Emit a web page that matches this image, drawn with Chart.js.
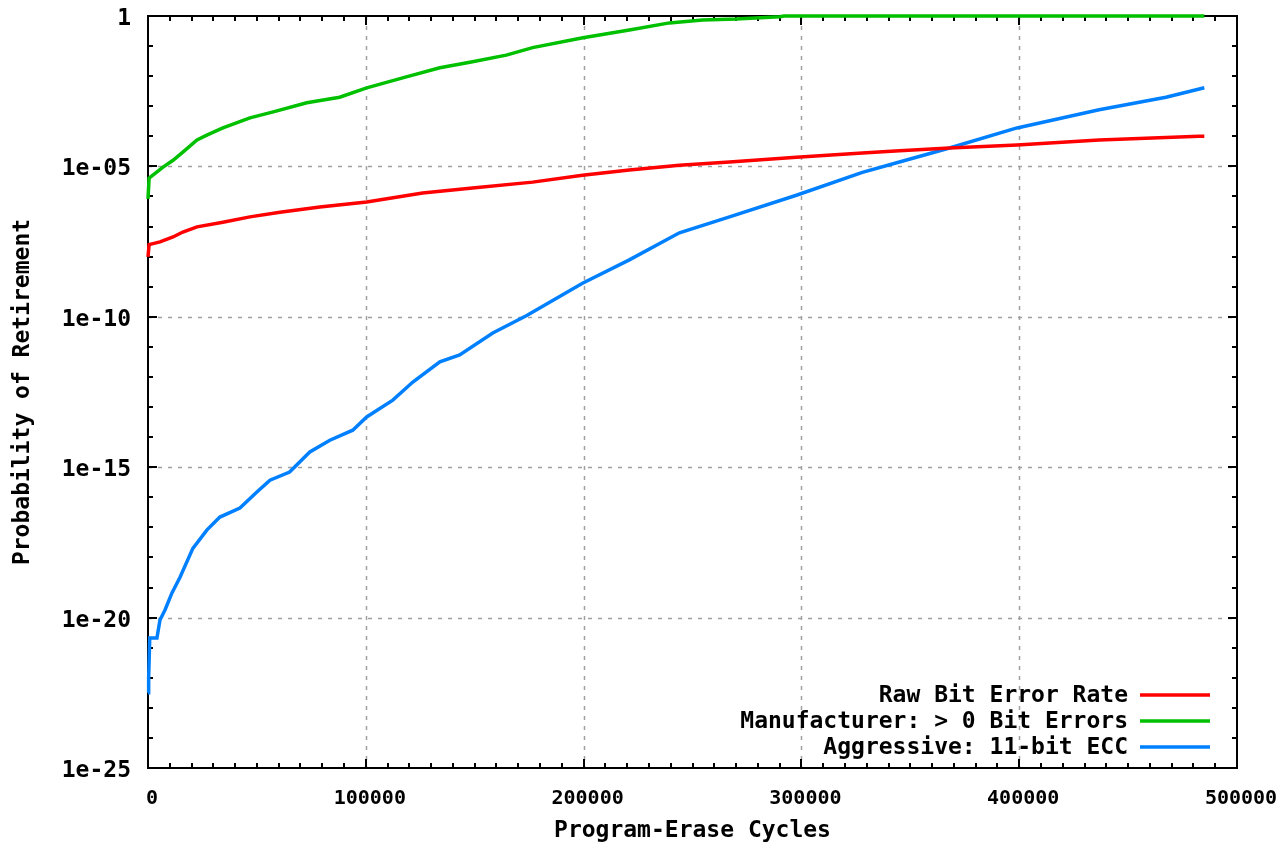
<!DOCTYPE html>
<html>
<head>
<meta charset="utf-8">
<script src="https://cdn.jsdelivr.net/npm/chart.js@4/dist/chart.umd.min.js"></script>
<style>
  html, body { margin: 0; padding: 0; background: #fff; }
  canvas { display: block; }
</style>
</head>
<body>
<canvas id="grafica" width="1282" height="846"></canvas>
<script>
// datos (ciclos P/E -> probabilidad)
const redCycles = [0, 500, 5500, 11500, 16000, 22500, 34400, 46800, 60600, 78900, 100400, 126100, 149000, 176600, 199500, 221000, 244000, 267000, 297700, 328000, 345000, 368000, 399000, 436700, 482600, 485000];
const redProb = [9.8e-9, 2.5e-8, 3.1e-8, 4.5e-8, 6.6e-8, 9.8e-8, 1.4e-7, 2.1e-7, 3.0e-7, 4.5e-7, 6.6e-7, 1.3e-6, 1.9e-6, 3.0e-6, 5.1e-6, 7.6e-6, 1.1e-5, 1.4e-5, 2.0e-5, 2.8e-5, 3.3e-5, 4.1e-5, 5.1e-5, 7.6e-5, 1.0e-4, 1.0e-4];

const greenCycles = [0, 500, 6900, 11500, 16000, 22500, 27000, 34400, 46800, 57500, 72900, 88000, 100400, 118600, 134000, 149000, 164500, 176600, 199700, 221000, 239400, 254600, 270000, 290000, 292000, 485000];
const greenProb = [8.3e-7, 4.1e-6, 9.5e-6, 1.6e-5, 3.0e-5, 7.6e-5, 1.1e-4, 1.9e-4, 4.1e-4, 6.5e-4, 1.3e-3, 2.0e-3, 4.1e-3, 9.5e-3, 0.019, 0.030, 0.050, 0.089, 0.19, 0.34, 0.59, 0.74, 0.79, 0.95, 1, 1];

const blueCycles = [0, 300, 800, 4100, 5500, 7800, 11000, 14700, 20600, 27000, 33000, 42200, 50000, 56000, 65000, 74300, 83500, 94000, 100400, 112400, 121600, 134000, 143100, 158300, 173900, 199500, 221000, 244000, 267000, 297700, 328000, 345000, 368000, 399000, 436700, 467400, 485000];
const blueProb = [3.2e-23, 1.0e-22, 2.1e-21, 2.1e-21, 8.3e-21, 1.8e-20, 6.6e-20, 2.2e-19, 2.0e-18, 8.1e-18, 2.2e-17, 4.4e-17, 1.5e-16, 3.7e-16, 6.9e-16, 3.2e-15, 7.9e-15, 1.7e-14, 4.7e-14, 1.7e-13, 6.8e-13, 3.2e-12, 5.4e-12, 2.9e-11, 1.1e-10, 1.3e-9, 7.8e-9, 6.2e-8, 2.1e-7, 1.1e-6, 6.3e-6, 1.4e-5, 4.1e-5, 1.9e-4, 7.6e-4, 2.0e-3, 4.1e-3];

const seriesLabels = ['Raw Bit Error Rate', 'Manufacturer: > 0 Bit Errors', 'Aggressive: 11-bit ECC'];
const seriesColors = ['#ff0000', '#00c000', '#0080ff'];

const xTickValues = [0, 100000, 200000, 300000, 400000, 500000];
const yDecades = [0, 5, 10, 15, 20, 25]; // exponentes negativos rotulados

const FONT = 'DejaVu Sans Mono';

function puntos(xs, ys) {
    return xs.map((x, i) => ({ x: x, y: ys[i] }));
}

// marco estilo gnuplot: rejilla punteada, borde y marcas hacia dentro en los 4 lados
const marcoGnuplot = {
    id: 'marcoGnuplot',
    beforeDatasetsDraw(chart) {
        const { ctx, chartArea: a, scales: { x, y } } = chart;
        ctx.save();
        ctx.strokeStyle = '#a0a0a0';
        ctx.lineWidth = 1.5;
        ctx.setLineDash([4, 6]);
        for (let v = 100000; v < 500000; v += 100000) {
            const px = Math.round(x.getPixelForValue(v)) + 0.5;
            ctx.beginPath(); ctx.moveTo(px, a.top); ctx.lineTo(px, a.bottom); ctx.stroke();
        }
        for (let k = 5; k < 25; k += 5) {
            const py = Math.round(y.getPixelForValue(Math.pow(10, -k))) + 0.5;
            ctx.beginPath(); ctx.moveTo(a.left, py); ctx.lineTo(a.right, py); ctx.stroke();
        }

        // borde y marcas (las curvas se pintan encima, como en gnuplot)
        ctx.strokeStyle = '#000';
        ctx.lineWidth = 2;
        ctx.setLineDash([]);
        ctx.beginPath();
        for (let v = 0; v <= 500000; v += 10000) {
            const px = Math.round(x.getPixelForValue(v));
            const len = v % 100000 === 0 ? 9 : 5;
            ctx.moveTo(px, a.bottom); ctx.lineTo(px, a.bottom - len);
            ctx.moveTo(px, a.top); ctx.lineTo(px, a.top + len);
        }
        for (let k = 0; k <= 25; k++) {
            const py = Math.round(y.getPixelForValue(Math.pow(10, -k)));
            const len = k % 5 === 0 ? 9 : 5;
            ctx.moveTo(a.left, py); ctx.lineTo(a.left + len, py);
            ctx.moveTo(a.right, py); ctx.lineTo(a.right - len, py);
        }
        ctx.stroke();
        ctx.strokeRect(a.left, a.top, a.right - a.left, a.bottom - a.top);
        ctx.restore();
    },
    afterDraw(chart) {
        // leyenda dentro del área, abajo a la derecha
        const { ctx, chartArea: a } = chart;
        ctx.save();
        ctx.font = 'bold 23px "' + FONT + '"';
        ctx.textAlign = 'right';
        ctx.textBaseline = 'middle';
        chart.data.datasets.forEach((ds, i) => {
            const py = a.bottom - 73 + i * 26;
            ctx.fillStyle = '#000';
            ctx.fillText(ds.label, a.right - 109, py + 1);
            ctx.strokeStyle = ds.borderColor;
            ctx.lineWidth = 3.5;
            ctx.beginPath();
            ctx.moveTo(a.right - 97, py);
            ctx.lineTo(a.right - 27, py);
            ctx.stroke();
        });
        ctx.restore();
    }
};

const datosSeries = [puntos(redCycles, redProb), puntos(greenCycles, greenProb), puntos(blueCycles, blueProb)];

new Chart(document.getElementById('grafica').getContext('2d'), {
    type: 'line',
    data: {
        datasets: datosSeries.map((d, i) => ({
            label: seriesLabels[i],
            data: d,
            borderColor: seriesColors[i],
            borderWidth: 3.5,
            pointRadius: 0,
            tension: 0,
            fill: false,
            clip: 4
        }))
    },
    options: {
        responsive: false,
        animation: false,
        layout: { padding: { left: 0, right: 45, top: 16, bottom: 0 } },
        plugins: { legend: { display: false }, tooltip: { enabled: false } },
        scales: {
            x: {
                type: 'linear',
                min: 0,
                max: 500000,
                afterBuildTicks: s => { s.ticks = xTickValues.map(v => ({ value: v })); },
                afterFit: s => { s.height = 78; s.paddingLeft = 0; s.paddingRight = 0; },
                grid: { display: false, drawTicks: false },
                border: { display: false },
                ticks: {
                    autoSkip: false, maxRotation: 0, padding: 19, labelOffset: 4, color: '#000',
                    font: { family: FONT, size: 20, weight: 'bold' },
                    callback: v => String(v)
                },
                title: {
                    display: true, text: 'Program-Erase Cycles', color: '#000',
                    font: { family: FONT, size: 23, weight: 'bold' },
                    padding: { top: 0, bottom: 1 }
                }
            },
            y: {
                type: 'logarithmic',
                min: 1e-25,
                max: 1,
                afterBuildTicks: s => { s.ticks = yDecades.map(k => ({ value: Math.pow(10, -k) })); },
                afterFit: s => { s.width = 148; s.paddingTop = 0; s.paddingBottom = 0; },
                grid: { display: false, drawTicks: false },
                border: { display: false },
                ticks: {
                    autoSkip: false, padding: 17, labelOffset: 3, color: '#000',
                    font: { family: FONT, size: 23, weight: 'bold' },
                    callback: (v, i) => {
                        const k = yDecades[i];
                        return k === 0 ? '1' : '1e-' + String(k).padStart(2, '0');
                    }
                },
                title: {
                    display: true, text: 'Probability of Retirement', color: '#000',
                    font: { family: FONT, size: 23, weight: 'bold' },
                    padding: { top: 9, bottom: 0 }
                }
            }
        }
    },
    plugins: [marcoGnuplot]
});
</script>
</body>
</html>
